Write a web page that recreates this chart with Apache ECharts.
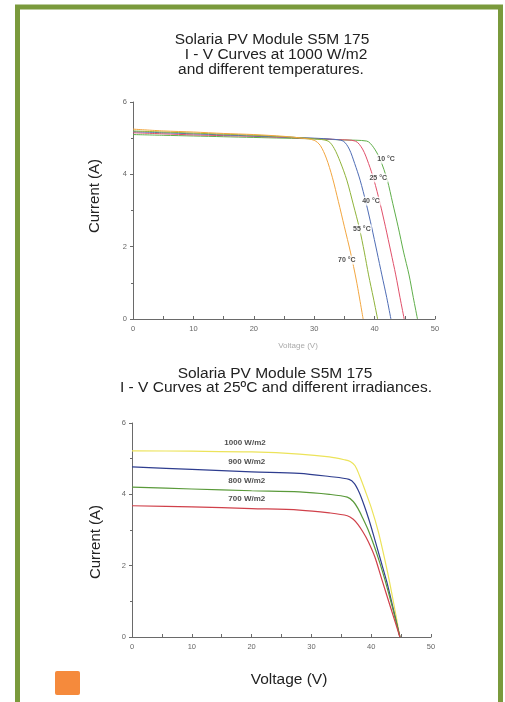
<!DOCTYPE html>
<html>
<head>
<meta charset="utf-8">
<script src="https://cdn.jsdelivr.net/npm/echarts@6/dist/echarts.min.js"></script>
<style>
html,body{margin:0;padding:0;background:#fff;}
#c{width:505px;height:702px;}
</style>
</head>
<body>
<div id="c"></div>
<script>
// ---- Data ----
const xTicks = [0, 10, 20, 30, 40, 50];
const yTicks = [0, 2, 4, 6];

// Top chart: I-V curves at 1000 W/m2, different temperatures  [Voltage (V), Current (A)]
const tempNames = ['10 °C', '25 °C', '40 °C', '55 °C', '70 °C'];
const t10 = [[0,5.1],[5,5.08],[10,5.06],[15,5.04],[20,5.02],[25,5.0],[30,4.98],[35,4.95],[38.7,4.92],[39.8,4.75],[40.9,4.42],[42.1,3.84],[43.0,3.2],[43.9,2.55],[44.8,1.85],[45.7,1.22],[46.4,0.6],[47.1,0]];
const t25 = [[0,5.15],[5,5.12],[10,5.09],[15,5.07],[20,5.05],[25,5.02],[30,4.99],[34,4.96],[36.8,4.92],[38.0,4.7],[39.0,4.3],[39.9,3.84],[40.9,3.2],[41.8,2.55],[42.7,1.85],[43.5,1.22],[44.2,0.6],[44.9,0]];
const t40 = [[0,5.18],[5,5.15],[10,5.12],[15,5.09],[20,5.06],[25,5.03],[30,5.0],[33,4.97],[34.8,4.92],[35.8,4.7],[36.7,4.3],[37.6,3.84],[38.6,3.2],[39.5,2.55],[40.4,1.85],[41.2,1.22],[42.0,0.6],[42.7,0]];
const t55 = [[0,5.2],[5,5.17],[10,5.14],[15,5.11],[20,5.08],[25,5.04],[30,4.98],[32.3,4.92],[33.3,4.72],[34.3,4.35],[35.4,3.84],[36.5,3.15],[37.5,2.5],[38.3,1.85],[39.0,1.22],[39.8,0.58],[40.5,0]];
const t70 = [[0,5.25],[5,5.2],[10,5.17],[15,5.13],[20,5.1],[25,5.05],[28,5.0],[30,4.94],[31,4.8],[32,4.45],[33,3.92],[34,3.25],[35,2.55],[36,1.85],[37,1.05],[38.1,0]];
const tempLabelAt = [[41.9,4.42],[40.6,3.9],[39.4,3.26],[37.9,2.49],[35.4,1.63]];

// Bottom chart: I-V curves at 25 °C, different irradiances
const irrNames = ['1000 W/m2', '900 W/m2', '800 W/m2', '700 W/m2'];
const g1000 = [[0,5.22],[10,5.21],[20,5.19],[28,5.13],[33,5.05],[35.5,4.97],[36.5,4.92],[37.3,4.8],[38.1,4.5],[39,4.1],[40.1,3.58],[41.2,2.95],[42.1,2.3],[43,1.6],[43.9,0.82],[44.8,0]];
const g900 = [[0,4.77],[10,4.7],[20,4.63],[28,4.59],[33,4.5],[36.3,4.42],[37.2,4.3],[38,4.05],[38.8,3.7],[39.6,3.3],[40.4,2.85],[41.5,2.2],[42.6,1.55],[43.7,0.78],[44.8,0]];
const g800 = [[0,4.2],[10,4.15],[20,4.1],[28,4.07],[33,4.0],[36,3.92],[37,3.8],[37.8,3.6],[38.6,3.33],[39.5,3.0],[40.4,2.6],[41.4,2.1],[42.3,1.6],[43.6,0.8],[44.8,0]];
const g700 = [[0,3.68],[10,3.65],[20,3.6],[28,3.56],[33,3.48],[36,3.4],[37,3.3],[37.8,3.15],[38.6,2.95],[39.5,2.68],[40.6,2.25],[41.8,1.6],[43.3,0.8],[44.8,0]];
const irrLabelAt = [[18.9,5.44],[19.2,4.91],[19.2,4.37],[19.2,3.87]];

// ---- Chart ----
const FONT = '"Liberation Sans", Arial, Helvetica, sans-serif';
const chart = echarts.init(document.getElementById('c'), null, {renderer: 'canvas'});

function xAxisCfg(gi) {
  return {
    gridIndex: gi, type: 'value', min: 0, max: 50, interval: 10,
    axisLine: {show: true, lineStyle: {color: '#6a6a6a', width: 1}},
    axisTick: {show: true, inside: true, length: 3, lineStyle: {color: '#6a6a6a'}},
    minorTick: {show: true, splitNumber: 2, length: 3, lineStyle: {color: '#6a6a6a'}},
    splitLine: {show: false},
    axisLabel: {fontSize: 7.5, color: '#666', margin: 6, fontFamily: FONT,
      formatter: v => (xTicks.indexOf(v) >= 0 ? String(v) : '')}
  };
}
function yAxisCfg(gi) {
  return {
    gridIndex: gi, type: 'value', min: 0, max: 6, interval: 2,
    axisLine: {show: true, lineStyle: {color: '#6a6a6a', width: 1}},
    axisTick: {show: true, length: 3, lineStyle: {color: '#6a6a6a'}},
    minorTick: {show: true, splitNumber: 2, length: 2, lineStyle: {color: '#6a6a6a'}},
    splitLine: {show: false},
    axisLabel: {fontSize: 7.5, color: '#666', margin: 6, fontFamily: FONT,
      formatter: v => (yTicks.indexOf(v) >= 0 ? String(v) : '')}
  };
}

const tempData = [t10, t25, t40, t55, t70];
const tempColors = ['#5fae4a', '#e0506a', '#4f6db5', '#8fb33a', '#f2a640'];
const irrData = [g1000, g900, g800, g700];
const irrColors = ['#ece35a', '#2e3d8f', '#5a9a3a', '#d0404a'];

const series = [];
tempData.forEach((d, i) => {
  series.push({type: 'line', name: tempNames[i], xAxisIndex: 0, yAxisIndex: 0, data: d,
    smooth: 0.3, showSymbol: false, symbol: 'none', z: 2,
    lineStyle: {color: tempColors[i], width: 1}});
});
irrData.forEach((d, i) => {
  series.push({type: 'line', name: irrNames[i], xAxisIndex: 1, yAxisIndex: 1, data: d,
    smooth: 0.3, showSymbol: false, symbol: 'none', z: 2,
    lineStyle: {color: irrColors[i], width: 1.2}});
});
series.push({type: 'scatter', xAxisIndex: 0, yAxisIndex: 0, symbolSize: 0, z: 5,
  data: tempLabelAt.map((p, i) => ({value: p, name: tempNames[i]})),
  label: {show: true, position: 'inside', formatter: p => p.name, fontSize: 7, fontWeight: 'bold',
    color: '#222', fontFamily: FONT, backgroundColor: '#fff', padding: [1, 1]},
  emphasis: {disabled: true}, silent: true});
series.push({type: 'scatter', xAxisIndex: 1, yAxisIndex: 1, symbolSize: 0, z: 5,
  data: irrLabelAt.map((p, i) => ({value: p, name: irrNames[i]})),
  label: {show: true, position: 'inside', formatter: p => p.name, fontSize: 8, fontWeight: 'bold',
    color: '#222', fontFamily: FONT},
  emphasis: {disabled: true}, silent: true});

function txt(text, x, y, size, opts) {
  return Object.assign({type: 'text', x: x, y: y, z: 10, silent: true,
    style: Object.assign({text: text, fill: '#222', font: size + 'px ' + FONT,
      textAlign: 'center', textVerticalAlign: 'middle'}, (opts && opts.style) || {})},
    (opts && opts.extra) || {});
}

chart.setOption({
  backgroundColor: '#fff',
  animation: false,
  grid: [
    {left: 133, top: 102, width: 302, height: 217},
    {left: 132, top: 423, width: 299, height: 214}
  ],
  xAxis: [xAxisCfg(0), xAxisCfg(1)],
  yAxis: [yAxisCfg(0), yAxisCfg(1)],
  series: series,
  graphic: [
    {type: 'rect', z: 20, silent: true, shape: {x: 17.5, y: 7, width: 483, height: 720},
      style: {fill: 'none', stroke: '#7a9a3c', lineWidth: 5}},
    {type: 'rect', z: 20, silent: true, shape: {x: 55, y: 671, width: 25, height: 24, r: 2},
      style: {fill: '#f58a3c'}},
    txt('Solaria PV Module S5M 175', 272, 40, 15.5),
    txt('I - V Curves at 1000 W/m2', 276, 55, 15.5),
    txt('and different temperatures.', 271, 70, 15.5),
    txt('Solaria PV Module S5M 175', 275, 374, 15.5),
    txt('I - V Curves at 25ºC and different irradiances.', 276, 388, 15.5),
    txt('Current (A)', 95, 196, 15, {extra: {rotation: Math.PI / 2}}),
    txt('Current (A)', 96, 542, 15, {extra: {rotation: Math.PI / 2}}),
    txt('Voltage (V)', 298, 346, 8, {style: {fill: '#aaa'}}),
    txt('Voltage (V)', 289, 680, 15.5)
  ]
});
</script>
</body>
</html>
